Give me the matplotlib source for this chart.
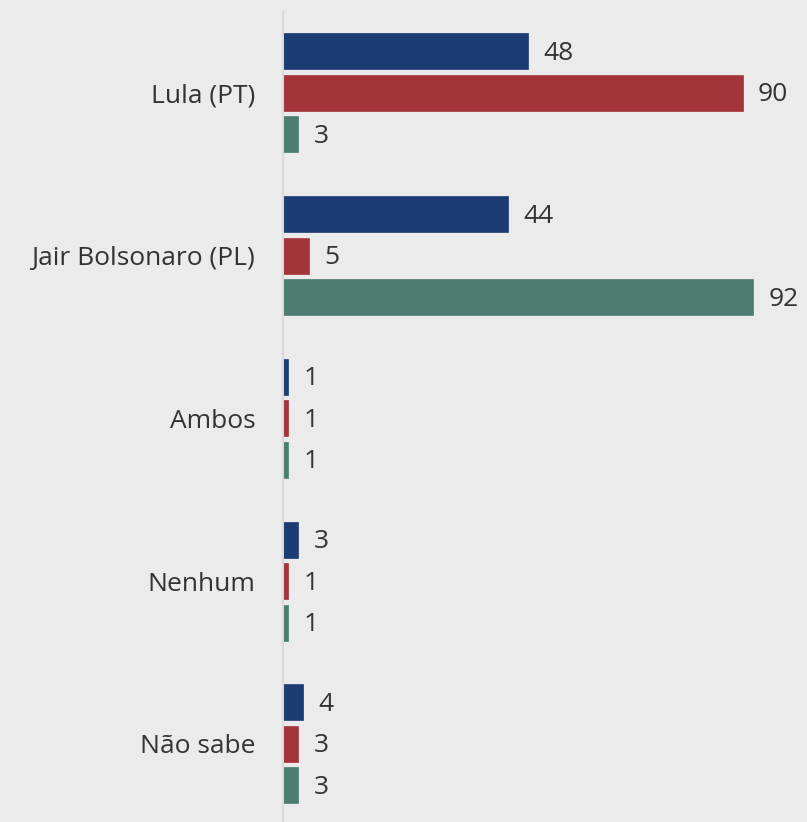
import matplotlib.pyplot as plt
import numpy as np

categories = ["Lula (PT)", "Jair Bolsonaro (PL)", "Ambos", "Nenhum", "Não sabe"]
serie_azul = [48, 44, 1, 3, 4]
serie_vermelha = [90, 5, 1, 1, 3]
serie_verde = [3, 92, 1, 1, 3]

cores = ["#1b3d74", "#a3343a", "#4b7d71"]
fundo = "#ebebeb"

plt.rcParams['font.family'] = ['Open Sans', 'DejaVu Sans']

fig = plt.figure(figsize=(8.07, 8.22), dpi=100, facecolor=fundo)
ax = fig.add_axes([283 / 807, 0, 1 - 283 / 807, 810 / 822])
ax.set_facecolor(fundo)

y = np.arange(len(categories))
off = 0.255
h = 0.22
for k, (vals, cor) in enumerate(zip([serie_azul, serie_vermelha, serie_verde], cores)):
    pos = y + (k - 1) * off
    ax.barh(pos, vals, height=h, color=cor, edgecolor=cor, linewidth=0.5)
    for p, v in zip(pos, vals):
        ax.text(v + 3.0, p + 0.012, str(v), va='center', ha='left', fontsize=19, color='#333333')

ax.set_xlim(0, 102.6)
ax.set_ylim(4.48, -0.497)
ax.set_yticks(y)
ax.set_yticklabels(categories, fontsize=19, color='#333333')
ax.tick_params(axis='y', length=0, pad=20)
ax.set_xticks([])
for s in ['top', 'right', 'bottom']:
    ax.spines[s].set_visible(False)
ax.spines['left'].set_color('#d9d9d9')
ax.spines['left'].set_linewidth(1.5)

plt.savefig('out.png', dpi=100, facecolor=fundo)
